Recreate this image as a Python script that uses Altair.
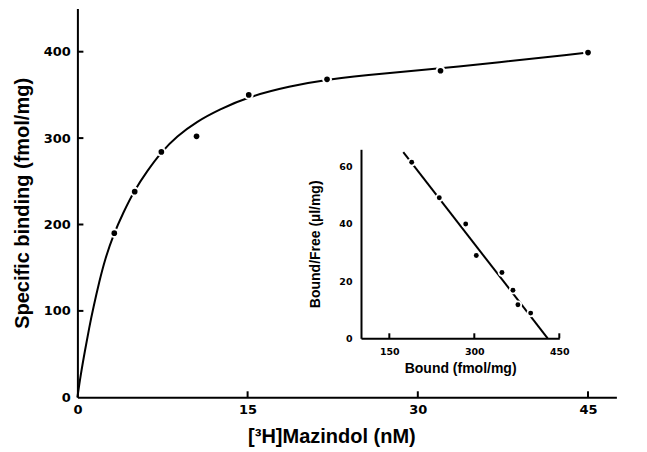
import altair as alt
import pandas as pd

# ---- main saturation data ----
conc = [3.25, 5.05, 7.4, 10.5, 15.1, 22.0, 32.0, 45.0]
bound = [190, 238, 284, 302, 350, 368, 378, 399]

# fitted curve
curve_x = [0, 0.3, 0.68, 1.03, 1.41, 1.93, 2.44, 3.17, 4.05, 5.0, 6.1, 7.4, 8.75, 10.5, 12.5, 15.1, 18.7, 22.0, 27.0, 32.4, 45.0]
curve_y = [0, 27, 55, 80, 104, 134, 160, 188, 214, 239, 261, 284, 302, 319, 333, 348, 360, 368, 375, 381, 399]

main_x_ticks = [15, 30, 45]
main_y_ticks = [100, 200, 300, 400]

# ---- Scatchard inset ----
sc_bound = [189.5, 238.2, 284.8, 303.5, 348.8, 368.2, 377.0, 399.5]
sc_ratio = [61.5, 49.1, 39.9, 28.9, 23.0, 16.8, 11.7, 8.8]
fit_bound = [174.6, 429.5]
fit_ratio = [65.0, 0.0]
inset_x_ticks = [150, 300, 450]

FONT = "Liberation Sans"
LFONT = "DejaVu Sans"
W, H = 539, 388.8

main_pts = pd.DataFrame({"conc": conc, "bound": bound})
curve = pd.DataFrame({"cx": curve_x, "cy": curve_y})
mxt = pd.DataFrame({"t": main_x_ticks})
myt = pd.DataFrame({"t": main_y_ticks})
sc_pts = pd.DataFrame({"b": sc_bound, "r": sc_ratio})
fit = pd.DataFrame({"fb": fit_bound, "fr": fit_ratio})
ixt = pd.DataFrame({"t": inset_x_ticks})

def mx():
    return alt.Scale(domain=[0, 47.5], nice=False, zero=False)
def my():
    return alt.Scale(domain=[0, 450], nice=False, zero=False)
def ix():
    return alt.Scale(domain=[100, 450], range=[283.6, 481.9], nice=False, zero=False)
def iy():
    return alt.Scale(domain=[0, 66], range=[329.8, 140.8], nice=False, zero=False)

axis_common = dict(ticks=False, grid=False, domainColor="black", domainWidth=2,
                   labelFont=LFONT, labelFontWeight="bold", labelColor="black",
                   titleFont=FONT, titleFontWeight="bold", titleColor="black",
                   labelFlush=False, labelOverlap=False)

main_xaxis = alt.Axis(orient="bottom", values=[0, 15, 30, 45], labelFontSize=13, labelPadding=6,
                      title="[³H]Mazindol (nM)", titleFontSize=20, titlePadding=10,
                      titleX=254, titleAlign="center", **axis_common)
main_yaxis = alt.Axis(orient="left", values=[0, 100, 200, 300, 400], labelFontSize=13, labelPadding=7,
                      title="Specific binding (fmol/mg)", titleFontSize=20, titlePadding=11,
                      **axis_common)

line = alt.Chart(curve).mark_line(interpolate="basis", color="black", strokeWidth=2).encode(
    x=alt.X("cx:Q", scale=mx(), axis=main_xaxis),
    y=alt.Y("cy:Q", scale=my(), axis=main_yaxis),
)
halo = alt.Chart(main_pts).mark_circle(color="white", opacity=1, size=95).encode(
    x=alt.X("conc:Q", scale=mx(), axis=None),
    y=alt.Y("bound:Q", scale=my(), axis=None),
)
dots = alt.Chart(main_pts).mark_circle(color="black", opacity=1, size=32).encode(
    x=alt.X("conc:Q", scale=mx(), axis=None),
    y=alt.Y("bound:Q", scale=my(), axis=None),
)
xt = alt.Chart(mxt).mark_rule(color="black", strokeWidth=2).encode(
    x=alt.X("t:Q", scale=mx(), axis=None),
    y=alt.value(H), y2=alt.value(H - 6),
)
yt = alt.Chart(myt).mark_rule(color="black", strokeWidth=2).encode(
    y=alt.Y("t:Q", scale=my(), axis=None),
    x=alt.value(0), x2=alt.value(6),
)

inset_xaxis = alt.Axis(orient="bottom", offset=329.8 - H, values=inset_x_ticks,
                       labelFontSize=9.5, labelPadding=8, title="Bound (fmol/mg)",
                       titleFontSize=14, titlePadding=6, **axis_common)
inset_yaxis = alt.Axis(orient="left", offset=-283.6, values=[0, 20, 40, 60],
                       labelFontSize=9.5, labelPadding=9, title="Bound/Free (µl/mg)",
                       titleFontSize=14, titlePadding=16, **axis_common)

fit_line = alt.Chart(fit).mark_line(color="black", strokeWidth=2).encode(
    x=alt.X("fb:Q", scale=ix(), axis=inset_xaxis),
    y=alt.Y("fr:Q", scale=iy(), axis=inset_yaxis),
)
ihalo = alt.Chart(sc_pts).mark_circle(color="white", opacity=1, size=70).encode(
    x=alt.X("b:Q", scale=ix(), axis=None),
    y=alt.Y("r:Q", scale=iy(), axis=None),
)
idots = alt.Chart(sc_pts).mark_circle(color="black", opacity=1, size=24).encode(
    x=alt.X("b:Q", scale=ix(), axis=None),
    y=alt.Y("r:Q", scale=iy(), axis=None),
)
ixticks = alt.Chart(ixt).mark_rule(color="black", strokeWidth=2).encode(
    x=alt.X("t:Q", scale=ix(), axis=None),
    y=alt.value(329.8), y2=alt.value(324.8),
)

chart = alt.layer(line, halo, dots, xt, yt, fit_line, ihalo, idots, ixticks).resolve_scale(
    x="independent", y="independent"
).properties(
    width=W, height=H,
    autosize=alt.AutoSizeParams(type="none"),
    padding={"left": 69.4, "top": 0.5, "right": 20, "bottom": 50},
    background="white",
).configure_view(stroke=None)

chart.save("out.html", embed_options={"renderer": "svg", "actions": False})
